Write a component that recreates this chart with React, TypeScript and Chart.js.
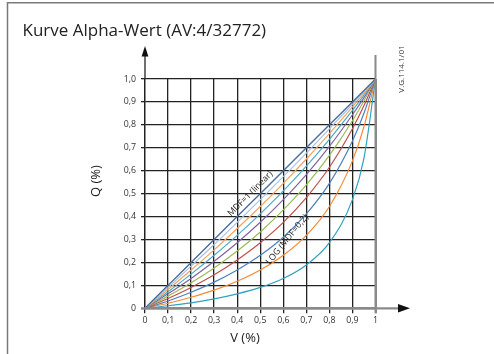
import React, { useEffect, useRef } from "react";
import { Chart, registerables } from "chart.js";

Chart.register(...registerables);

// ---- data ----
const TITLE = "Kurve Alpha-Wert (AV:4/32772)";
const X_TITLE = "V (%)";
const Y_TITLE = "Q (%)";
const SIDE_NOTE = "V.G.114.1/01";
const X_TICKS = ["0", "0,1", "0,2", "0,3", "0,4", "0,5", "0,6", "0,7", "0,8", "0,9", "1"];
const Y_TICKS = ["0", "0,1", "0,2", "0,3", "0,4", "0,5", "0,6", "0,7", "0,8", "0,9", "1,0"];

const V = [0, 0.1, 0.2, 0.3, 0.4, 0.5, 0.6, 0.7, 0.8, 0.9, 0.95, 1];
const MDF_10 = [0, 0.1, 0.2, 0.3, 0.4, 0.5, 0.6, 0.7, 0.8, 0.9, 0.95, 1];
const MDF_09 = [0, 0.091, 0.184, 0.278, 0.375, 0.474, 0.574, 0.677, 0.783, 0.89, 0.945, 1];
const MDF_08 = [0, 0.082, 0.167, 0.255, 0.348, 0.444, 0.545, 0.651, 0.762, 0.878, 0.938, 1];
const MDF_07 = [0, 0.072, 0.149, 0.231, 0.318, 0.412, 0.512, 0.62, 0.737, 0.863, 0.93, 1];
const MDF_06 = [0, 0.063, 0.13, 0.205, 0.286, 0.375, 0.474, 0.583, 0.706, 0.844, 0.919, 1];
const MDF_05 = [0, 0.053, 0.111, 0.176, 0.25, 0.333, 0.429, 0.538, 0.667, 0.818, 0.905, 1];
const MDF_04 = [0, 0.043, 0.091, 0.146, 0.211, 0.286, 0.375, 0.483, 0.615, 0.783, 0.884, 1];
const MDF_03 = [0, 0.032, 0.07, 0.114, 0.167, 0.231, 0.31, 0.412, 0.545, 0.73, 0.851, 1];
const MDF_02 = [0, 0.022, 0.048, 0.079, 0.118, 0.167, 0.231, 0.318, 0.444, 0.643, 0.792, 1];
const MDF_01 = [0, 0.011, 0.024, 0.041, 0.063, 0.091, 0.13, 0.189, 0.286, 0.474, 0.655, 1];

const SERIES = [MDF_10, MDF_09, MDF_08, MDF_07, MDF_06, MDF_05, MDF_04, MDF_03, MDF_02, MDF_01];
const SERIES_NAMES = ["MDF 1,0", "MDF 0,9", "MDF 0,8", "MDF 0,7", "MDF 0,6", "MDF 0,5", "MDF 0,4", "MDF 0,3", "MDF 0,2", "MDF 0,1"];
const COLORS = ["#4a6d9e", "#a9c3e2", "#f4a462", "#4bacc6", "#8064a2", "#9bbb59", "#c0504d", "#4f81bd", "#f58a33", "#2fa3be"];

// curve annotations: text, anchor (V, Q), angle in degrees
const CURVE_LABELS = [
  { text: "MDF=1 (linear)", v: 0.457, q: 0.5, angle: -45 },
  { text: "LOG (MDF=0,2)", v: 0.617, q: 0.3, angle: -51 },
];

const FONT = '"Open Sans", "Noto Sans", sans-serif';

const overlay = {
  id: "overlay",
  afterDraw(chart: any) {
    const { ctx, chartArea: a, scales } = chart;
    const xs = scales.x;
    const ys = scales.y;
    ctx.save();

    // outer frame (top & left)
    ctx.strokeStyle = "#7a7a7a";
    ctx.lineWidth = 1.5;
    ctx.beginPath();
    ctx.moveTo(7.5, 354);
    ctx.lineTo(7.5, 2.75);
    ctx.lineTo(494, 2.75);
    ctx.stroke();

    // right edge extension (gray)
    ctx.strokeStyle = "#8a8a8a";
    ctx.lineWidth = 2;
    ctx.beginPath();
    ctx.moveTo(a.right, a.top - 24);
    ctx.lineTo(a.right, a.bottom + 5);
    ctx.stroke();

    // y axis extension + arrow
    ctx.strokeStyle = "#222";
    ctx.lineWidth = 1.3;
    ctx.beginPath();
    ctx.moveTo(a.left, a.top);
    ctx.lineTo(a.left, a.top - 24);
    ctx.stroke();
    ctx.fillStyle = "#111";
    ctx.beginPath();
    ctx.moveTo(a.left, a.top - 33);
    ctx.lineTo(a.left - 3.4, a.top - 22.5);
    ctx.lineTo(a.left + 3.4, a.top - 22.5);
    ctx.closePath();
    ctx.fill();

    // x axis line + arrow
    ctx.strokeStyle = "#8a8a8a";
    ctx.lineWidth = 2.2;
    ctx.beginPath();
    ctx.moveTo(a.left - 4, a.bottom);
    ctx.lineTo(a.right + 24, a.bottom);
    ctx.stroke();
    ctx.fillStyle = "#111";
    ctx.beginPath();
    ctx.moveTo(a.right + 34.5, a.bottom);
    ctx.lineTo(a.right + 22.5, a.bottom - 4.3);
    ctx.lineTo(a.right + 22.5, a.bottom + 4.3);
    ctx.closePath();
    ctx.fill();

    // title
    ctx.fillStyle = "#222";
    ctx.font = `17px ${FONT}`;
    ctx.textAlign = "left";
    ctx.textBaseline = "alphabetic";
    ctx.fillText(TITLE, 22.5, 36);

    // axis titles
    ctx.font = `13px ${FONT}`;
    ctx.textAlign = "center";
    ctx.textBaseline = "middle";
    ctx.fillStyle = "#222";
    ctx.fillText(X_TITLE, 245, 338);
    ctx.save();
    ctx.translate(96, 181);
    ctx.rotate(-Math.PI / 2);
    ctx.fillText(Y_TITLE, 0, 0);
    ctx.restore();

    // side note
    ctx.save();
    ctx.font = `8px "Liberation Sans Narrow", ${FONT}`;
    ctx.fillStyle = "#333";
    ctx.translate(401.5, 69);
    ctx.rotate(-Math.PI / 2);
    ctx.fillText(SIDE_NOTE, 0, 0);
    ctx.restore();

    // curve labels
    ctx.font = `8.8px ${FONT}`;
    ctx.fillStyle = "#2a2a2a";
    for (const l of CURVE_LABELS) {
      ctx.save();
      ctx.translate(xs.getPixelForValue(l.v), ys.getPixelForValue(l.q));
      ctx.rotate((l.angle * Math.PI) / 180);
      ctx.fillText(l.text, 0, 0);
      ctx.restore();
    }

    ctx.restore();
  },
};

export default function App() {
  const ref = useRef<HTMLCanvasElement | null>(null);

  useEffect(() => {
    if (!ref.current) return;
    const datasets = SERIES.map((s, k) => ({
      label: SERIES_NAMES[k],
      data: V.map((v, i) => ({ x: v, y: s[i] })),
      borderColor: COLORS[k],
      backgroundColor: COLORS[k],
      borderWidth: k === 0 ? 1.4 : 1.2,
      pointRadius: 0,
      fill: false,
      cubicInterpolationMode: "monotone" as const,
    }));

    const chart = new Chart(ref.current, {
      type: "line",
      data: { datasets },
      plugins: [overlay],
      options: {
        animation: false,
        responsive: false,
        devicePixelRatio: 1,
        layout: { padding: { left: 80, top: 79, right: 118.5, bottom: 0 } },
        plugins: {
          legend: { display: false },
          tooltip: { enabled: false },
          title: { display: false },
        },
        scales: {
          x: {
            type: "linear",
            min: 0,
            max: 1,
            afterFit: (s: any) => {
              s.height = 45.7;
            },
            ticks: {
              stepSize: 0.1,
              autoSkip: false,
              maxRotation: 0,
              padding: 2,
              color: "#333",
              font: { family: FONT, size: 8.8 },
              callback: (_v: any, i: number) => X_TICKS[i],
            },
            grid: {
              color: (c: any) => (c.index === 10 ? "#8a8a8a" : "#222"),
              lineWidth: (c: any) => (c.index === 10 ? 2 : 1.3),
              tickLength: 5,
            },
            border: { color: "#8a8a8a", width: 2.2 },
          },
          y: {
            type: "linear",
            min: 0,
            max: 1,
            afterFit: (s: any) => {
              s.width = 65;
            },
            ticks: {
              stepSize: 0.1,
              autoSkip: false,
              padding: 5,
              color: "#333",
              font: { family: FONT, size: 8.8 },
              callback: (_v: any, i: number) => Y_TICKS[i],
            },
            grid: {
              color: (c: any) => (c.index === 0 ? "#8a8a8a" : "#222"),
              lineWidth: 1.3,
              tickLength: 4,
            },
            border: { color: "#222", width: 1.3 },
          },
        },
      },
    });
    return () => chart.destroy();
  }, []);

  return (
    <div style={{ position: "fixed", left: 0, top: 0, width: 494, height: 354, background: "#fff" }}>
      <canvas ref={ref} width={494} height={354} style={{ width: 494, height: 354 }} />
    </div>
  );
}
